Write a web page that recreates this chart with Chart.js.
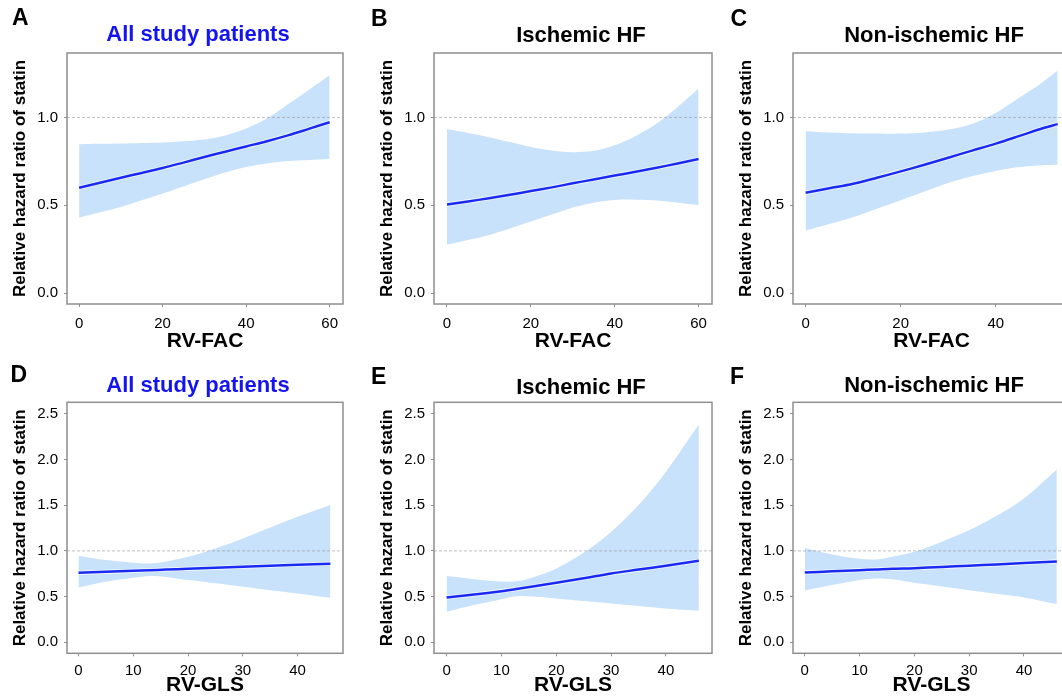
<!DOCTYPE html>
<html>
<head>
<meta charset="utf-8">
<script src="https://cdn.jsdelivr.net/npm/chart.js@4.4.1/dist/chart.umd.min.js"></script>
<style>
html,body{margin:0;padding:0;background:#fff;}
body{width:1062px;height:696px;overflow:hidden;position:relative;font-family:"Liberation Sans",Arial,Helvetica,sans-serif;}
canvas{position:absolute;}
.letter{position:absolute;font-weight:bold;font-size:23px;line-height:23px;color:#000;white-space:nowrap;}
.ptitle{position:absolute;font-weight:bold;font-size:22px;line-height:22px;color:#000;white-space:nowrap;transform:translateX(-50%);}
</style>
</head>
<body>
<script>
// ---------------- DATA ----------------
const FAC_X   = [0, 5, 10, 15, 20, 25, 30, 35, 40, 45, 50, 55, 60];
const FAC_X_C = [0, 5, 10, 15, 20, 25, 30, 35, 40, 45, 50, 53];
const GLS_X   = [0, 5, 10, 13, 16, 20, 25, 30, 35, 40, 46];

// A: RV-FAC, all study patients
const A_HR    = [0.600, 0.628, 0.657, 0.684, 0.712, 0.743, 0.775, 0.805, 0.835, 0.865, 0.898, 0.935, 0.973];
const A_UPPER = [0.848, 0.850, 0.852, 0.855, 0.858, 0.865, 0.875, 0.898, 0.937, 0.995, 1.075, 1.157, 1.240];
const A_LOWER = [0.430, 0.460, 0.490, 0.528, 0.567, 0.607, 0.648, 0.686, 0.718, 0.738, 0.752, 0.758, 0.763];

// B: RV-FAC, ischemic HF
const B_HR    = [0.505, 0.522, 0.540, 0.560, 0.581, 0.602, 0.625, 0.647, 0.669, 0.691, 0.714, 0.738, 0.763];
const B_UPPER = [0.934, 0.912, 0.888, 0.860, 0.832, 0.812, 0.802, 0.810, 0.842, 0.895, 0.965, 1.060, 1.165];
const B_LOWER = [0.275, 0.302, 0.331, 0.368, 0.407, 0.447, 0.487, 0.515, 0.530, 0.532, 0.527, 0.515, 0.502];

// C: RV-FAC, non-ischemic HF
const C_HR    = [0.571, 0.597, 0.623, 0.657, 0.693, 0.731, 0.771, 0.811, 0.851, 0.895, 0.940, 0.962];
const C_UPPER = [0.922, 0.915, 0.910, 0.908, 0.909, 0.915, 0.931, 0.963, 1.027, 1.114, 1.204, 1.267];
const C_LOWER = [0.356, 0.394, 0.432, 0.480, 0.528, 0.578, 0.627, 0.665, 0.695, 0.718, 0.728, 0.731];

// D: RV-GLS, all study patients
const D_HR    = [0.760, 0.771, 0.782, 0.788, 0.795, 0.804, 0.815, 0.826, 0.837, 0.848, 0.859];
const D_UPPER = [0.947, 0.899, 0.870, 0.863, 0.885, 0.936, 1.027, 1.137, 1.257, 1.374, 1.502];
const D_LOWER = [0.599, 0.662, 0.705, 0.724, 0.715, 0.680, 0.645, 0.607, 0.570, 0.534, 0.486];

// E: RV-GLS, ischemic HF
const E_HR    = [0.490, 0.522, 0.559, 0.585, 0.612, 0.650, 0.700, 0.753, 0.795, 0.837, 0.892];
const E_UPPER = [0.724, 0.690, 0.665, 0.670, 0.715, 0.808, 0.980, 1.210, 1.502, 1.868, 2.387];
const E_LOWER = [0.333, 0.406, 0.471, 0.505, 0.500, 0.479, 0.450, 0.424, 0.397, 0.369, 0.344];

// F: RV-GLS, non-ischemic HF
const F_HR    = [0.764, 0.776, 0.789, 0.797, 0.805, 0.811, 0.824, 0.838, 0.851, 0.866, 0.885];
const F_UPPER = [1.031, 0.961, 0.914, 0.906, 0.936, 0.990, 1.100, 1.228, 1.385, 1.575, 1.893];
const F_LOWER = [0.567, 0.625, 0.680, 0.698, 0.688, 0.650, 0.610, 0.570, 0.530, 0.490, 0.417];

const FAC_TICKS = [0, 20, 40, 60];
const GLS_TICKS = [0, 10, 20, 30, 40];
const TOP_Y_TICKS = [0, 0.5, 1.0];
const BOTTOM_Y_TICKS = [0, 0.5, 1.0, 1.5, 2.0, 2.5];
const REFERENCE_HR = 1.0;

const LETTERS = ['A', 'B', 'C', 'D', 'E', 'F'];
const TITLES = ['All study patients', 'Ischemic HF', 'Non-ischemic HF',
                'All study patients', 'Ischemic HF', 'Non-ischemic HF'];
const X_TITLES = ['RV-FAC', 'RV-FAC', 'RV-FAC', 'RV-GLS', 'RV-GLS', 'RV-GLS'];
const Y_TITLE = 'Relative hazard ratio of statin';

// ---------------- STYLE / LAYOUT ----------------
const FONT = '"Liberation Sans", Arial, Helvetica, sans-serif';
const LINE_BLUE = '#1a2af5';
const BAND_BLUE = '#c9e2fb';
const FRAME_GRAY = '#8f8f8f';

const panels = [
  {x: FAC_X,   hr: A_HR, up: A_UPPER, lo: A_LOWER, xt: FAC_TICKS, yt: TOP_Y_TICKS, boxW: 276,
   left: 0,   top: 0,   w: 348, h: 350, padTop: 53, xH: 46, xMin: -2.9, xMax: 63.2, yMin: -0.062, yMax: 1.367,
   titleX: 198, titleTop: 23, titleColor: '#1414f0', letterX: 12, letterTop: 5.5, xTickPad: 7.5, xTitlePad: 0},
  {x: FAC_X,   hr: B_HR, up: B_UPPER, lo: B_LOWER, xt: FAC_TICKS, yt: TOP_Y_TICKS, boxW: 278,
   left: 367, top: 0,   w: 350, h: 350, padTop: 53, xH: 46, xMin: -3.1, xMax: 63.2, yMin: -0.062, yMax: 1.367,
   titleX: 581, titleTop: 24, titleColor: '#000', letterX: 371, letterTop: 6.5, xTickPad: 7.5, xTitlePad: 0},
  {x: FAC_X_C, hr: C_HR, up: C_UPPER, lo: C_LOWER, xt: [0, 20, 40], yt: TOP_Y_TICKS, boxW: 277,
   left: 726, top: 0,   w: 349, h: 350, padTop: 53, xH: 46, xMin: -2.65, xMax: 55.6, yMin: -0.062, yMax: 1.367,
   titleX: 934, titleTop: 24, titleColor: '#000', letterX: 730.5, letterTop: 6.5, xTickPad: 7.5, xTitlePad: 0},
  {x: GLS_X,   hr: D_HR, up: D_UPPER, lo: D_LOWER, xt: GLS_TICKS, yt: BOTTOM_Y_TICKS, boxW: 276,
   left: 0,   top: 350, w: 348, h: 346, padTop: 52.3, xH: 42.7, xMin: -2.1, xMax: 48.3, yMin: -0.122, yMax: 2.628,
   titleX: 198, titleTop: 373.5, titleColor: '#1414f0', letterX: 10.5, letterTop: 362.5, xTickPad: 6, xTitlePad: 1.5},
  {x: GLS_X,   hr: E_HR, up: E_UPPER, lo: E_LOWER, xt: GLS_TICKS, yt: BOTTOM_Y_TICKS, boxW: 278,
   left: 367, top: 350, w: 350, h: 346, padTop: 52.3, xH: 42.7, xMin: -2.3, xMax: 48.4, yMin: -0.122, yMax: 2.628,
   titleX: 581, titleTop: 375.5, titleColor: '#000', letterX: 371, letterTop: 365, xTickPad: 6, xTitlePad: 1.5},
  {x: GLS_X,   hr: F_HR, up: F_UPPER, lo: F_LOWER, xt: GLS_TICKS, yt: BOTTOM_Y_TICKS, boxW: 277,
   left: 726, top: 350, w: 349, h: 346, padTop: 52.3, xH: 42.7, xMin: -2.15, xMax: 48.4, yMin: -0.122, yMax: 2.628,
   titleX: 934, titleTop: 374, titleColor: '#000', letterX: 730, letterTop: 365, xTickPad: 6, xTitlePad: 1.5}
];

const framePlugin = {
  id: 'frame',
  afterDatasetsDraw(chart) {
    const {ctx, chartArea: a} = chart;
    ctx.save();
    ctx.strokeStyle = FRAME_GRAY;
    ctx.lineWidth = 1.5;
    ctx.strokeRect(a.left, a.top, a.right - a.left, a.bottom - a.top);
    ctx.restore();
  }
};

function pts(xs, ys) { return xs.map((x, i) => ({x: x, y: ys[i]})); }

panels.forEach((p, i) => {
  const cv = document.createElement('canvas');
  cv.width = p.w; cv.height = p.h;
  cv.style.left = p.left + 'px'; cv.style.top = p.top + 'px';
  cv.style.width = p.w + 'px'; cv.style.height = p.h + 'px';
  document.body.appendChild(cv);

  const letter = document.createElement('div');
  letter.className = 'letter';
  letter.textContent = LETTERS[i];
  letter.style.left = p.letterX + 'px'; letter.style.top = p.letterTop + 'px';
  document.body.appendChild(letter);

  const title = document.createElement('div');
  title.className = 'ptitle';
  title.textContent = TITLES[i];
  title.style.left = p.titleX + 'px'; title.style.top = p.titleTop + 'px';
  title.style.color = p.titleColor;
  document.body.appendChild(title);

  new Chart(cv, {
    type: 'line',
    data: {
      datasets: [
        {data: pts(p.x, p.hr), borderColor: LINE_BLUE, borderWidth: 2.5, pointRadius: 0,
         tension: 0.35, fill: false, order: 0},
        {data: pts(p.x, p.hr), borderColor: 'rgba(255,255,255,0.75)', borderWidth: 4.2, pointRadius: 0,
         tension: 0.35, fill: false, order: 1},
        {data: [{x: p.xMin, y: REFERENCE_HR}, {x: p.xMax, y: REFERENCE_HR}],
         borderColor: 'rgba(140,140,140,0.55)', borderWidth: 1, borderDash: [3, 2], pointRadius: 0, fill: false, order: 2},
        {data: pts(p.x, p.lo), borderWidth: 0, borderColor: 'rgba(0,0,0,0)', pointRadius: 0,
         tension: 0.35, fill: false, order: 3},
        {data: pts(p.x, p.up), borderWidth: 0, borderColor: 'rgba(0,0,0,0)', pointRadius: 0,
         tension: 0.35, fill: 3, backgroundColor: BAND_BLUE, order: 4}
      ]
    },
    options: {
      responsive: false,
      animation: false,
      devicePixelRatio: 1,
      layout: {padding: {top: p.padTop, right: p.w - 67 - p.boxW, left: 0, bottom: 0}},
      plugins: {legend: {display: false}, tooltip: {enabled: false}},
      scales: {
        x: {
          type: 'linear', min: p.xMin, max: p.xMax,
          afterBuildTicks: s => { s.ticks = p.xt.map(v => ({value: v})); },
          afterFit: s => { s.height = p.xH; },
          ticks: {font: {family: FONT, size: 15}, color: '#000', padding: p.xTickPad, maxRotation: 0,
                  callback: v => String(v)},
          grid: {drawOnChartArea: false, drawTicks: true, tickLength: 3, color: FRAME_GRAY},
          border: {display: false},
          title: {display: true, text: X_TITLES[i], color: '#000',
                  font: {family: FONT, size: 21, weight: 'bold', lineHeight: 0.86},
                  padding: {top: 0, bottom: p.xTitlePad}}
        },
        y: {
          type: 'linear', min: p.yMin, max: p.yMax,
          afterBuildTicks: s => { s.ticks = p.yt.map(v => ({value: v})); },
          afterFit: s => { s.width = 67; },
          ticks: {font: {family: FONT, size: 15}, color: '#000', padding: 6,
                  callback: v => Number(v).toFixed(1)},
          grid: {drawOnChartArea: false, drawTicks: true, tickLength: 3, color: FRAME_GRAY},
          border: {display: false},
          title: {display: true, text: Y_TITLE, color: '#000',
                  font: {family: FONT, size: 17, weight: 'bold', lineHeight: 1.2},
                  padding: {top: 10, bottom: 0}}
        }
      }
    },
    plugins: [framePlugin]
  });
});
</script>
</body>
</html>
